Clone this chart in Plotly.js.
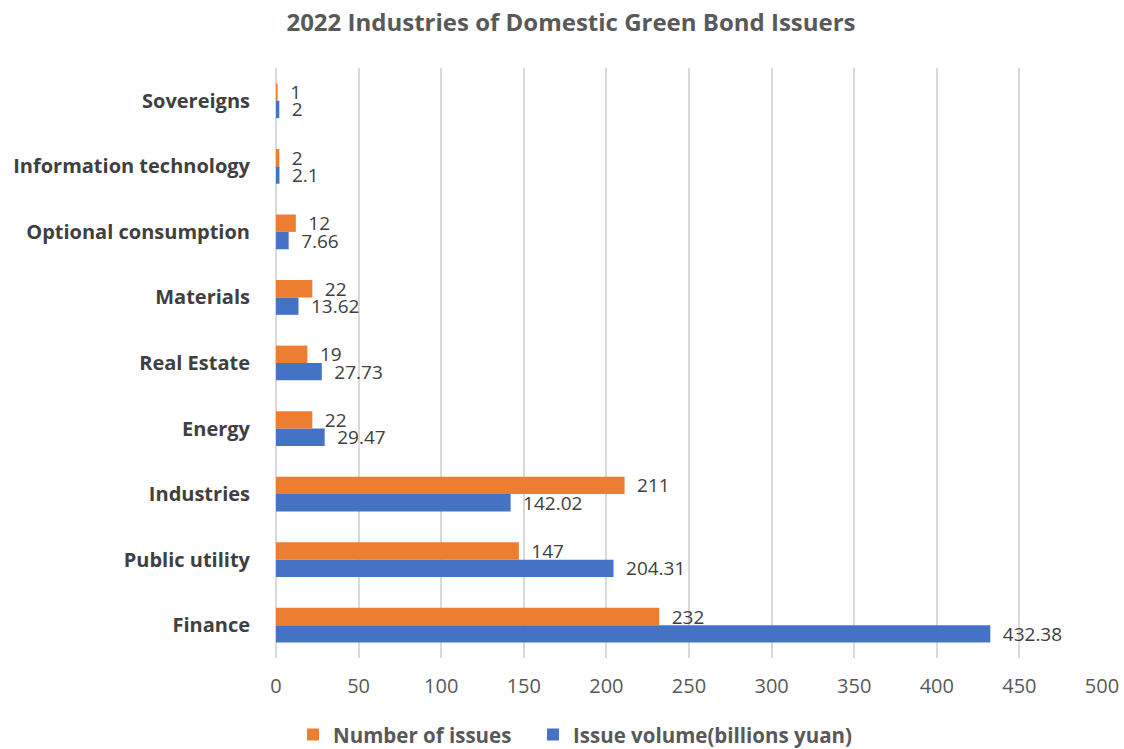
<!DOCTYPE html>
<html>
<head>
<meta charset="utf-8">
<script src="https://cdn.plot.ly/plotly-3.0.1.min.js"></script>
<style>html,body{margin:0;padding:0;background:#fff;}#chart{width:1124px;height:749px;}</style>
</head>
<body>
<div id="chart"></div>
<script>
const categories = ["Finance", "Public utility", "Industries", "Energy", "Real Estate", "Materials", "Optional consumption", "Information technology", "Sovereigns"];
const numberOfIssues = [232, 147, 211, 22, 19, 22, 12, 2, 1];
const issueVolume = [432.38, 204.31, 142.02, 29.47, 27.73, 13.62, 7.66, 2.1, 2];
const xTicks = [0, 50, 100, 150, 200, 250, 300, 350, 400, 450, 500];

const fontFam = "Open Sans, Liberation Sans, sans-serif";
const labelFont = {family: fontFam, size: 19, color: "#404040"};
const legendFont = {family: fontFam, size: 20.5, color: "#595959", weight: "bold"};

const traces = [
  {
    type: "bar", orientation: "h", name: "Issue volume(billions yuan)", legend: "legend2",
    y: categories, x: issueVolume,
    texttemplate: "\u2002%{x}", textposition: "outside", textfont: labelFont,
    constraintext: "none", cliponaxis: false,
    marker: {color: "#4472C4"}, hoverinfo: "x+y"
  },
  {
    type: "bar", orientation: "h", name: "Number of issues", legend: "legend",
    y: categories, x: numberOfIssues,
    texttemplate: "\u2002%{x}", textposition: "outside", textfont: labelFont,
    constraintext: "none", cliponaxis: false,
    marker: {color: "#ED7D31"}, hoverinfo: "x+y"
  }
];

const layout = {
  width: 1124, height: 749,
  paper_bgcolor: "#fff", plot_bgcolor: "#fff",
  margin: {l: 276, r: 22, t: 68, b: 91},
  title: {text: "2022 Industries of Domestic Green Bond Issuers", x: 0.508, xanchor: "center", xref: "container", y: 0.97, yanchor: "middle",
          font: {family: fontFam, size: 24, color: "#595959", weight: "bold"}},
  barmode: "group", bargap: 0.47, bargroupgap: 0,
  showlegend: true,
  legend: {orientation: "h", xref: "container", yref: "container", x: 0.2607, xanchor: "left", y: 0.019, yanchor: "middle",
           font: legendFont},
  legend2: {orientation: "h", xref: "container", yref: "container", x: 0.4742, xanchor: "left", y: 0.019, yanchor: "middle",
           font: legendFont},
  xaxis: {range: [0, 500], tickvals: xTicks, ticktext: xTicks.map(String), showgrid: true, gridcolor: "#d9d9d9", gridwidth: 2,
          zeroline: true, zerolinecolor: "#d9d9d9", zerolinewidth: 2, showline: false, ticks: "", ticklabelstandoff: 14,
          tickfont: {family: fontFam, size: 20, color: "#595959"}, fixedrange: true},
  yaxis: {type: "category", categoryorder: "array", categoryarray: categories, showgrid: false, zeroline: false, showline: false, ticks: "", ticklabelstandoff: 25,
          tickfont: {family: fontFam, size: 20, color: "#404040", weight: "bold"}, automargin: false, fixedrange: true}
};

Plotly.newPlot("chart", traces, layout, {displayModeBar: false, staticPlot: true});
</script>
</body>
</html>
